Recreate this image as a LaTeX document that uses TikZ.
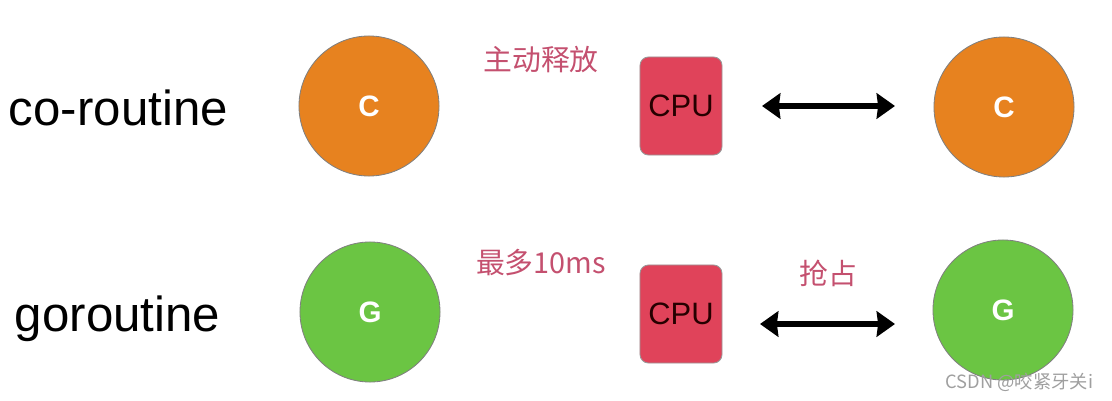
\documentclass[tikz,border=0pt]{standalone}
\usepackage{fontspec}
\setmainfont{Liberation Sans}
\newfontfamily\cjk{Noto Sans CJK SC}
\usetikzlibrary{arrows.meta}
\definecolor{corange}{HTML}{E7821F}
\definecolor{ggreen}{HTML}{6BC543}
\definecolor{cpured}{HTML}{E0435A}
\definecolor{notepink}{HTML}{C4506F}
\tikzset{
  task/.style={draw=gray, line width=0.6pt, circle, minimum size=3.5cm, inner sep=0pt,
    text=white, font=\fontsize{21}{21}\selectfont\bfseries},
  cpubox/.style={draw=gray!80, line width=0.6pt, fill=cpured, rounded corners=6pt,
    minimum width=2.05cm, minimum height=2.45cm, inner sep=0pt,
    text=black!85!red, font=\fontsize{22}{22}\selectfont},
  note/.style={text=notepink, font=\cjk\fontsize{20.5}{20.5}\selectfont},
  kind/.style={anchor=base west, font=\fontsize{35}{35}\selectfont},
  swap/.style={line width=4pt, {Triangle[length=13pt,width=18pt,inset=1pt]}-{Triangle[length=13pt,width=18pt,inset=1pt]}}
}
\begin{document}
\begin{tikzpicture}[x=0.025cm, y=-0.025cm]
    \useasboundingbox (0,0) rectangle (1112,401);
    % Nodes
    \node[kind] (co) at (4,125) {co-routine};
    \node[kind] (go) at (10,331) {goroutine};

    \node[task, fill=corange] (c1) at (369,106) {C};
    \node[task, fill=corange] (c2) at (1004,107) {C};
    \node[task, fill=ggreen] (g1) at (370,312) {G};
    \node[task, fill=ggreen] (g2) at (1003,310) {G};

    \node[cpubox] (cpu1) at (681,106) {CPU};
    \node[cpubox] (cpu2) at (681,314) {CPU};

    \node[note] (free) at (541,60) {主动释放};
    \node[note] (limit) at (541,263) {最多10ms};
    \node[note] (grab) at (828,273) {抢占};

    \coordinate (s1) at (762,106);
    \coordinate (e1) at (895,106);
    \coordinate (s2) at (760,324);
    \coordinate (e2) at (895,324);

    \node[text=gray!75, font=\cjk\fontsize{13}{13}\selectfont, anchor=east] (mark) at (1098,382) {CSDN @咬紧牙关i};

    % Edges
    \draw[swap] (s1) -- (e1);
    \draw[swap] (s2) -- (e2);
\end{tikzpicture}
\end{document}
